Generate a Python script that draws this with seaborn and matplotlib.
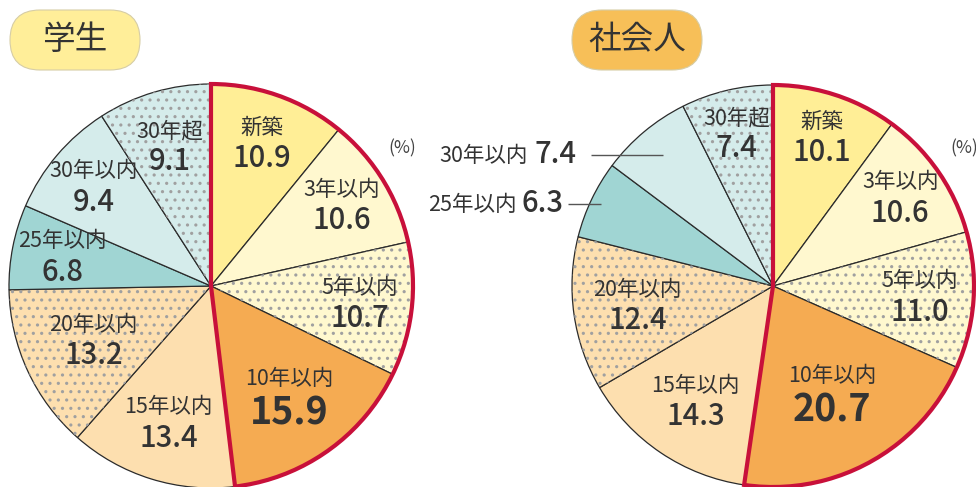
import numpy as np
import matplotlib
matplotlib.use("Agg")
import matplotlib.pyplot as plt
from matplotlib.patches import Wedge, FancyBboxPatch
import seaborn as sns

# --- data (%), clockwise from 12 o'clock ---
categories = ["新築", "3年以内", "5年以内", "10年以内", "15年以内",
              "20年以内", "25年以内", "30年以内", "30年超"]
student = [10.9, 10.6, 10.7, 15.9, 13.4, 13.2, 6.8, 9.4, 9.1]
worker = [10.1, 10.6, 11.0, 20.7, 14.3, 12.4, 6.3, 7.4, 7.4]
group_titles = ["学生", "社会人"]

# --- styling ---
slice_colors = ["#FFEE96", "#FFF8CF", "#FFF8CF", "#F5AB52", "#FDDFAF",
                "#FDDFAF", "#A0D5D3", "#D5ECEB", "#D5ECEB"]
dotted = [False, False, True, False, False, True, False, False, True]
pill_colors = ["#FFEE99", "#F7BF58"]
n_highlight = 4          # 新築 .. 10年以内 get the red outline
big_idx = 3              # 10年以内 value is emphasised
RED = "#C8103A"
TXT = "#333333"
W, H = 976, 487

# label radius (fraction of pie radius); None = label outside with leader line
student_label_r = [0.75, 0.76, 0.74, 0.67, 0.71, 0.64, 0.75, 0.76, 0.72]
worker_label_r = [0.78, 0.77, 0.73, 0.61, 0.69, 0.68, None, None, 0.78]
# outside labels: (leader start r-fraction, line length px, gap to text px)
worker_outside = {6: (0.95, 33, 4), 7: (0.85, 72, 15)}

sns.set_theme(style="white")
plt.rcParams["font.family"] = ["Noto Sans CJK JP", "DejaVu Sans"]
plt.rcParams["hatch.linewidth"] = 1.1

fig = plt.figure(figsize=(W / 100, H / 100), dpi=100)
ax = fig.add_axes([0, 0, 1, 1])


def draw_pie(ax, values, center, radius, label_r, outside, title, pill_color):
    cx, cy = center
    n = len(values)
    total = sum(values)
    ax.pie(values, colors=slice_colors, startangle=90, counterclock=False,
           center=center, radius=radius, frame=True,
           wedgeprops=dict(edgecolor="#2b2b2b", linewidth=0.9))
    # dotted texture
    ax.pie(values, colors=["none"] * n, startangle=90, counterclock=False,
           center=center, radius=radius, frame=True,
           hatch=[".." if d else "" for d in dotted],
           wedgeprops=dict(edgecolor="#a0a0a0", linewidth=0))

    # red outline around the first slices
    frac = sum(values[:n_highlight]) / total
    ax.add_patch(Wedge(center, radius, 90 - 360 * frac, 90, facecolor="none",
                       edgecolor=RED, linewidth=3.0, zorder=5,
                       joinstyle="miter"))

    cum = np.cumsum(values)
    for i, (cat, v) in enumerate(zip(categories, values)):
        mid = (cum[i] - v / 2) / total
        ang = np.deg2rad(90 - 360 * mid)
        if label_r[i] is not None:
            x = cx + label_r[i] * radius * np.cos(ang)
            y = cy + label_r[i] * radius * np.sin(ang)
            if i == big_idx:
                ax.text(x, y + 17, cat, ha="center", va="center",
                        fontsize=15.5, color=TXT, zorder=6)
                ax.text(x, y - 17, f"{v:.1f}", ha="center", va="center",
                        fontsize=27, fontweight="bold", color=TXT, zorder=6)
            else:
                ax.text(x, y + 15.5, cat, ha="center", va="center",
                        fontsize=15.5, color=TXT, zorder=6)
                ax.text(x, y - 15.5, f"{v:.1f}", ha="center", va="center",
                        fontsize=21, fontweight="medium", color=TXT, zorder=6)
        else:
            rf, length, gap = outside[i]
            px = cx + rf * radius * np.cos(ang)
            py = cy + rf * radius * np.sin(ang)
            ax.plot([px - length, px], [py, py], color="#555555", lw=1.0,
                    zorder=6, solid_capstyle="butt")
            vt = ax.text(px - length - gap, py, f"{v:.1f}", ha="right",
                         va="center", fontsize=21, fontweight="medium",
                         color=TXT, zorder=6)
            fig.canvas.draw()
            bb = vt.get_window_extent()
            ax.text(bb.x0 + 4, py - 1, cat, ha="right", va="center",
                    fontsize=15.5, color=TXT, zorder=6)

    ax.text(cx + 191, cy + 138, "(%)", ha="center", va="center",
            fontsize=12.5, color="#444444")

    # title pill
    pw, ph = 130, 60
    px0, py0 = cx - 136 - pw / 2, cy + 246 - ph / 2
    ax.add_patch(FancyBboxPatch((px0, py0), pw, ph,
                                boxstyle="round,pad=0,rounding_size=30",
                                facecolor=pill_color, edgecolor="#d6cda6",
                                linewidth=0.8, zorder=4))
    ax.text(px0 + pw / 2, py0 + ph / 2, title, ha="center", va="center",
            fontsize=23.5, color="#333333", zorder=6)


draw_pie(ax, student, (211, H - 286), 202, student_label_r, {},
         group_titles[0], pill_colors[0])
draw_pie(ax, worker, (773, H - 286), 201, worker_label_r, worker_outside,
         group_titles[1], pill_colors[1])

ax.set_xlim(0, W)
ax.set_ylim(0, H)
ax.set_aspect("equal")
ax.axis("off")

fig.savefig("out.png", dpi=100)
plt.close(fig)
